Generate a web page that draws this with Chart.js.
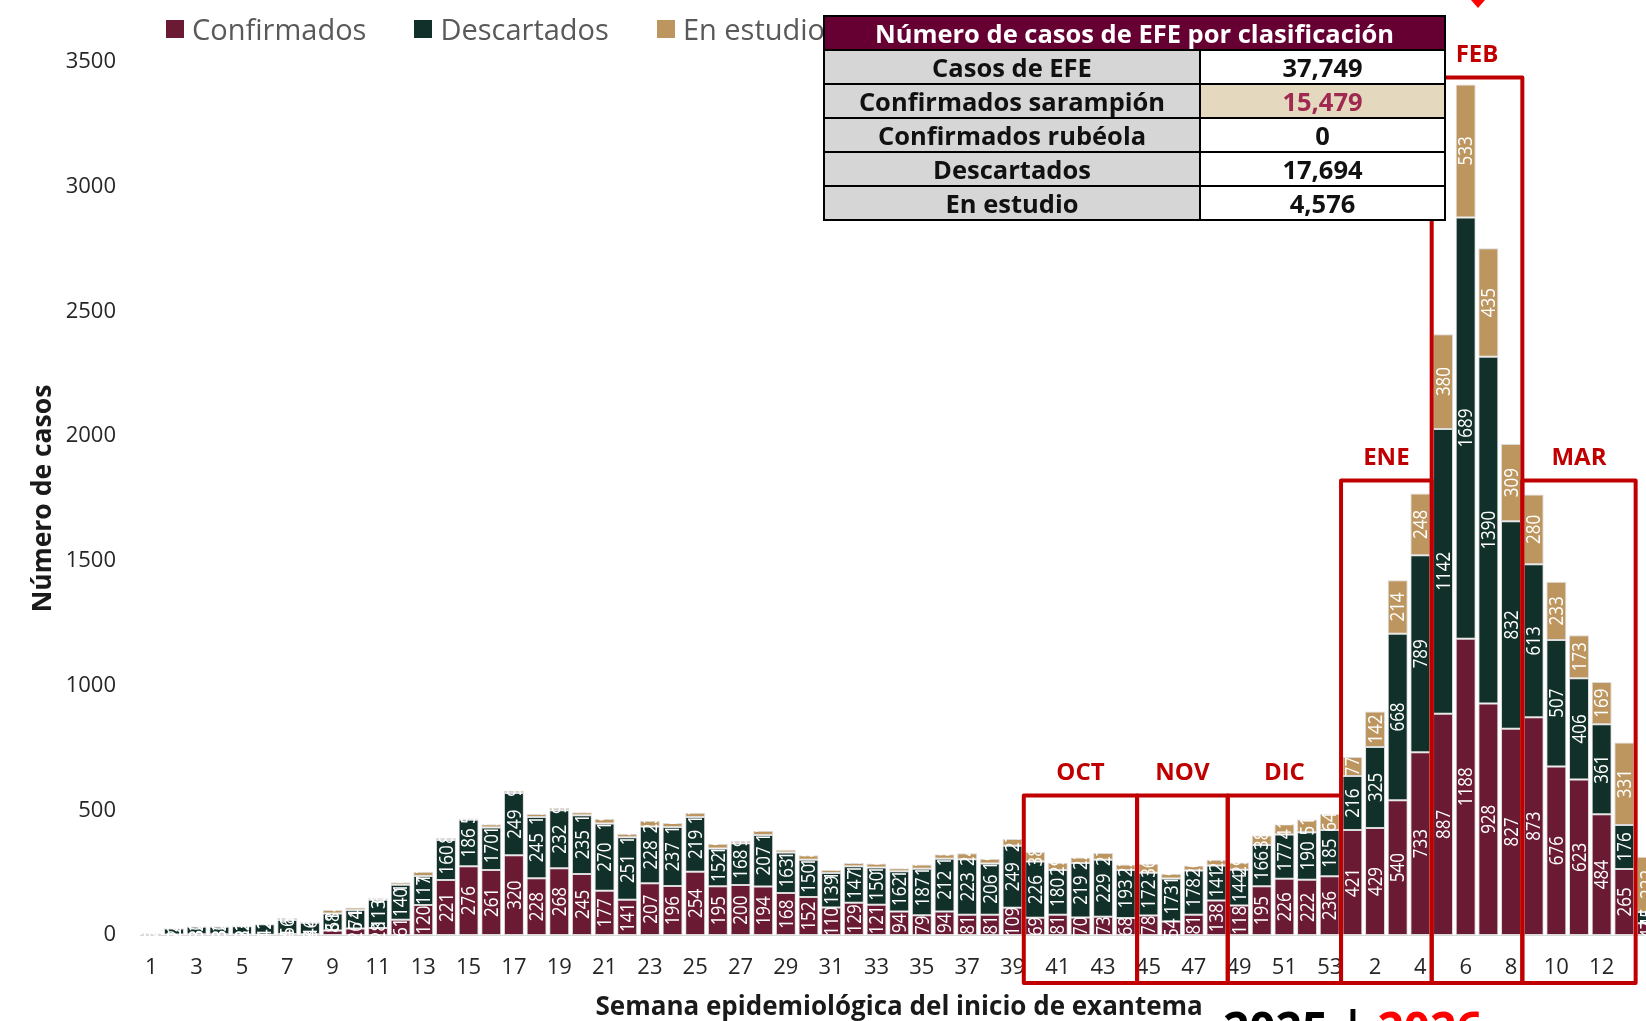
<!DOCTYPE html>
<html lang="es">
<head>
<meta charset="utf-8">
<title>Casos de EFE por semana epidemiológica</title>
<script src="https://cdn.jsdelivr.net/npm/chart.js@4.4.1/dist/chart.umd.min.js"></script>
<style>
    html, body { margin: 0; padding: 0; overflow: hidden; background: #fff; }
    #contenedor { position: relative; width: 1667px; height: 1021px; overflow: hidden; }
    #graficoEstudios { position: absolute; left: 0; top: 2px; }
    #leyenda {
        position: absolute; left: 166px; top: 11px; display: flex; gap: 48px;
        font-family: 'Open Sans', sans-serif; font-size: 29px; line-height: 36px; color: #595959;
    }
    #leyenda span.item { display: flex; align-items: center; }
    #leyenda span.marca { display: inline-block; width: 18px; height: 18px; margin-right: 8px; }
    #tabla {
        position: absolute; left: 823px; top: 15px; width: 623px;
        border-collapse: collapse; border: 2px solid #000;
        font-family: 'Open Sans', sans-serif; font-weight: bold; font-size: 25.5px; color: #111;
    }
    #tabla th { background: #660033; color: #fff; height: 32px; padding: 0; line-height: 30px; border: 2px solid #000; }
    #tabla td { height: 32px; padding: 0; line-height: 30px; text-align: center; border: 2px solid #000; }
    #tabla td.etiqueta { background: #d6d6d6; width: 374px; }
    #tabla td.valor { background: #fff; }
    #tabla td.resaltado { background: #e4d9bf; color: #a0294f; }
    #flecha {
        position: absolute; left: 1471px; top: 0; width: 0; height: 0;
        border-left: 7px solid transparent; border-right: 7px solid transparent; border-top: 8px solid #ff0000;
    }
    #anios {
        position: absolute; left: 1223px; top: 1004px; white-space: pre;
        font-family: 'Open Sans', sans-serif; font-weight: bold; font-size: 46px; line-height: 46px; color: #000;
    }
    #anios .rojo { color: #ff0000; }
</style>
</head>
<body>
<div id="contenedor">
    <canvas id="graficoEstudios" width="1667" height="1021"></canvas>
    <div id="leyenda"></div>
    <table id="tabla">
        <thead><tr><th colspan="2">Número de casos de EFE por clasificación</th></tr></thead>
        <tbody id="cuerpoTabla"></tbody>
    </table>
    <div id="flecha"></div>
    <div id="anios">2025 | <span class="rojo">2026</span></div>
</div>
<script>
// Semanas epidemiológicas (2025 completas y 2026 hasta la semana 14)
const semanas2025 = [1, 2, 3, 4, 5, 6, 7, 8, 9, 10, 11, 12, 13, 14, 15, 16, 17, 18, 19, 20,
    21, 22, 23, 24, 25, 26, 27, 28, 29, 30, 31, 32, 33, 34, 35, 36, 37, 38, 39, 40,
    41, 42, 43, 44, 45, 46, 47, 48, 49, 50, 51, 52, 53];
const semanas2026 = [1, 2, 3, 4, 5, 6, 7, 8, 9, 10, 11, 12, 13, 14];

// Casos por semana
const confirmados = [0, 2, 3, 3, 2, 1, 4, 3, 18, 26, 28, 61, 120, 221, 276, 261, 320, 228, 268, 245,
    177, 141, 207, 196, 254, 195, 200, 194, 168, 152, 110, 129, 121, 94, 79, 94, 81, 81, 109, 69,
    81, 70, 73, 68, 78, 54, 81, 138, 118, 195, 226, 222, 236,
    421, 429, 540, 733, 887, 1188, 928, 827, 873, 676, 623, 484, 265, 47];
const descartados = [5, 24, 30, 30, 33, 42, 56, 46, 68, 74, 113, 140, 117, 160, 186, 170, 249, 245, 232, 235,
    270, 251, 228, 237, 219, 152, 168, 207, 163, 150, 139, 147, 150, 162, 187, 212, 223, 206, 249, 226,
    180, 219, 229, 193, 172, 173, 178, 141, 144, 166, 177, 190, 185,
    216, 325, 668, 789, 1142, 1689, 1390, 832, 613, 507, 406, 361, 176, 45];
const enEstudio = [2, 2, 2, 2, 2, 2, 8, 4, 14, 10, 6, 10, 17, 8, 5, 13, 9, 12, 9, 12,
    19, 14, 23, 16, 17, 19, 9, 17, 11, 18, 12, 13, 16, 12, 17, 18, 24, 19, 27, 38,
    29, 22, 27, 22, 36, 19, 20, 23, 29, 38, 41, 51, 64,
    77, 142, 214, 248, 380, 533, 435, 309, 280, 233, 173, 169, 331, 222];

const seriesNombres = ['Confirmados', 'Descartados', 'En estudio'];
const seriesColores = ['#6a1b33', '#12302a', '#bd965f'];

// Eje Y
const yMaximo = 3500;
const yPaso = 500;

// Recuadros por mes: índice de la primera y última semana, y altura superior (en casos)
const meses = ['OCT', 'NOV', 'DIC', 'ENE', 'FEB', 'MAR'];
const mesInicio = [39, 44, 48, 53, 57, 61];
const mesFin = [43, 47, 52, 56, 60, 65];
const mesTope = [559, 559, 559, 1822, 3438, 1822];

// Tabla resumen
const tablaEtiquetas = ['Casos de EFE', 'Confirmados sarampión', 'Confirmados rubéola', 'Descartados', 'En estudio'];
const tablaValores = ['37,749', '15,479', '0', '17,694', '4,576'];

const etiquetasSemana = semanas2025.concat(semanas2026).map(String);

// Leyenda
const leyenda = document.getElementById('leyenda');
seriesNombres.forEach((nombre, i) => {
    const item = document.createElement('span');
    item.className = 'item';
    item.innerHTML = `<span class="marca" style="background:${seriesColores[i]}"></span>${nombre}`;
    leyenda.appendChild(item);
});

// Tabla
const cuerpoTabla = document.getElementById('cuerpoTabla');
tablaEtiquetas.forEach((texto, i) => {
    const fila = document.createElement('tr');
    const claseValor = i === 1 ? 'valor resaltado' : 'valor';
    fila.innerHTML = `<td class="etiqueta">${texto}</td><td class="${claseValor}">${tablaValores[i]}</td>`;
    cuerpoTabla.appendChild(fila);
});

// Etiquetas de valor verticales dentro de cada segmento
const etiquetasBarras = {
    id: 'etiquetasBarras',
    afterDatasetsDraw(chart) {
        const ctx = chart.ctx;
        ctx.save();
        ctx.fillStyle = '#ffffff';
        ctx.font = "20px 'Open Sans', sans-serif";
        ctx.textAlign = 'center';
        ctx.textBaseline = 'middle';
        chart.data.datasets.forEach((dataset, i) => {
            chart.getDatasetMeta(i).data.forEach((barra, j) => {
                const valor = dataset.data[j];
                if (!valor) return;
                ctx.save();
                ctx.translate(barra.x, (barra.y + barra.base) / 2);
                ctx.rotate(-Math.PI / 2);
                ctx.scale(0.85, 1);
                ctx.fillText(String(valor), 0, 1);
                ctx.restore();
            });
        });
        ctx.restore();
    }
};

// Recuadros rojos de cada mes
const recuadrosMeses = {
    id: 'recuadrosMeses',
    afterDraw(chart) {
        const ctx = chart.ctx;
        const x = chart.scales.x;
        const y = chart.scales.y;
        const mitad = x.width / etiquetasSemana.length / 2;
        ctx.save();
        ctx.strokeStyle = '#c00000';
        ctx.fillStyle = '#c00000';
        ctx.lineWidth = 4;
        ctx.lineJoin = 'round';
        ctx.font = "bold 24px 'Open Sans', sans-serif";
        ctx.textAlign = 'center';
        ctx.textBaseline = 'middle';
        meses.forEach((mes, i) => {
            const izq = x.getPixelForValue(mesInicio[i]) - mitad;
            const der = x.getPixelForValue(mesFin[i]) + mitad;
            const arriba = y.getPixelForValue(mesTope[i]);
            const abajo = chart.chartArea.bottom + 48;
            ctx.strokeRect(izq, arriba, der - izq, abajo - arriba);
            ctx.fillText(mes, (izq + der) / 2, arriba - 22);
        });
        ctx.restore();
    }
};

Chart.defaults.font.family = "'Open Sans', sans-serif";

const datos = [confirmados, descartados, enEstudio];

new Chart(document.getElementById('graficoEstudios').getContext('2d'), {
    type: 'bar',
    data: {
        labels: etiquetasSemana,
        datasets: seriesNombres.map((nombre, i) => ({
            label: nombre,
            data: datos[i],
            backgroundColor: seriesColores[i],
            borderColor: 'rgba(215, 215, 215, 0.9)',
            borderWidth: 1,
            borderSkipped: false,
            barPercentage: 0.9,
            categoryPercentage: 0.98
        }))
    },
    options: {
        responsive: false,
        animation: false,
        devicePixelRatio: 1,
        layout: { padding: { top: 60, right: 3, bottom: 0, left: 0 } },
        plugins: {
            legend: { display: false },
            tooltip: { enabled: false }
        },
        scales: {
            x: {
                stacked: true,
                grid: { display: false, drawTicks: false },
                border: { display: true, color: '#d9d9d9' },
                ticks: {
                    autoSkip: false,
                    maxRotation: 0,
                    padding: 20,
                    color: '#262626',
                    font: { size: 22 },
                    callback: (valor, indice) =>
                        indice % 2 === 0 && indice < etiquetasSemana.length - 1 ? etiquetasSemana[indice] : ''
                },
                title: {
                    display: true,
                    text: 'Semana epidemiológica del inicio de exantema',
                    color: '#1a1a1a',
                    font: { size: 26, weight: 'bold' },
                    padding: { top: 10, bottom: 0 }
                },
                afterFit: escala => { escala.height = 88; }
            },
            y: {
                stacked: true,
                min: 0,
                max: yMaximo,
                grid: { display: false, drawTicks: false },
                border: { display: false },
                ticks: {
                    stepSize: yPaso,
                    padding: 24,
                    color: '#262626',
                    font: { size: 22 },
                    callback: valor => String(valor)
                },
                title: {
                    display: true,
                    text: 'Número de casos',
                    color: '#1a1a1a',
                    font: { size: 26.5, weight: 'bold' },
                    padding: { top: 28, bottom: 6 }
                },
                afterFit: escala => { escala.width = 140; }
            }
        }
    },
    plugins: [etiquetasBarras, recuadrosMeses]
});
</script>
</body>
</html>
